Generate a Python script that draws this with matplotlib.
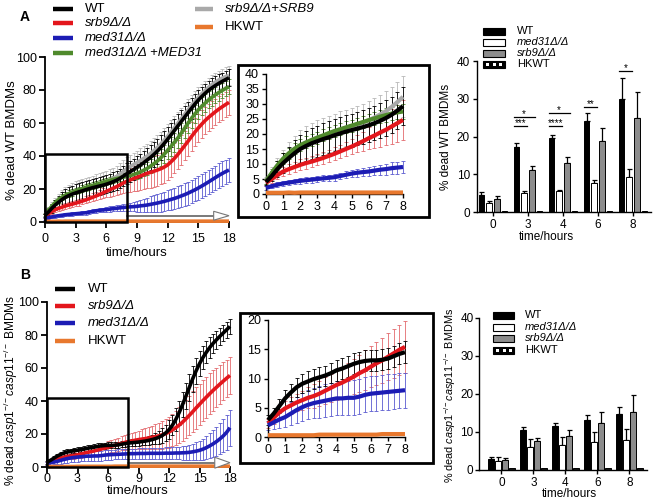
import numpy as np
import matplotlib
matplotlib.use('Agg')
import matplotlib.pyplot as plt
from matplotlib.patches import Rectangle, Polygon
from matplotlib.lines import Line2D

plt.rcParams['font.family'] = ['Liberation Sans', 'DejaVu Sans']
plt.rcParams['mathtext.fontset'] = 'custom'
plt.rcParams['mathtext.rm'] = 'Liberation Sans'
plt.rcParams['mathtext.it'] = 'Liberation Sans:italic'

# ---------------- data: time course (every 20 min, 0-18 h) ----------------
hours = np.arange(55) / 3.0

A_WT = [4.0, 6.0, 8.3, 10.3, 12.0, 13.6, 15.0, 16.0, 16.9, 17.6, 18.3, 18.9, 19.6, 20.2, 20.8, 21.3, 21.8, 22.3,
        22.9, 23.6, 24.4, 25.3, 26.4, 27.8, 29.3, 30.5, 31.8, 33.2, 34.5, 36.0, 37.6, 39.2, 41.0, 43.0, 45.2, 47.6,
        50.2, 52.8, 55.5, 58.2, 60.9, 63.6, 66.3, 68.9, 71.5, 73.9, 76.0, 78.0, 79.8, 81.3, 82.7, 84.0, 85.2, 86.3, 87.4]
A_WT_err = [1.0, 1.8, 2.6, 3.2, 3.8, 4.3, 4.7, 5.0, 5.1, 5.2, 5.3, 5.3, 5.4, 5.4, 5.5, 5.5, 5.5, 5.6, 5.6, 5.7,
            5.8, 5.9, 6.0, 6.1, 6.2, 6.4, 6.6, 6.8, 7.0, 7.2, 7.4, 7.5, 7.6, 7.6, 7.6, 7.5, 7.4, 7.3, 7.2, 7.0,
            6.9, 6.8, 6.6, 6.5, 6.3, 6.2, 6.0, 5.9, 5.8, 5.7, 5.6, 5.5, 5.4, 5.3, 5.2]
A_SRB9_COMP = [4.5, 6.8, 9.0, 11.0, 12.8, 14.4, 16.0, 17.1, 18.0, 18.8, 19.5, 20.1, 20.8, 21.4, 22.0, 22.6, 23.2,
               23.8, 24.6, 25.5, 26.5, 27.6, 29.0, 30.6, 32.4, 33.6, 34.8, 36.0, 37.3, 38.6, 40.0, 41.6, 43.3, 45.2,
               47.3, 49.6, 52.0, 54.6, 57.2, 59.9, 62.6, 65.3, 68.0, 70.6, 73.1, 75.5, 77.7, 79.7, 81.6, 83.3, 84.8,
               86.1, 87.2, 88.1, 88.9]
A_SRB9_COMP_err = [1.2, 2.2, 3.0, 3.8, 4.4, 4.9, 5.3, 5.5, 5.7, 5.8, 5.9, 6.0, 6.0, 6.1, 6.1, 6.2, 6.2, 6.3, 6.3,
                   6.4, 6.5, 6.6, 6.7, 6.8, 6.9, 7.0, 7.1, 7.2, 7.3, 7.4, 7.5, 7.5, 7.5, 7.4, 7.3, 7.2, 7.1, 7.0,
                   6.9, 6.8, 6.7, 6.6, 6.5, 6.4, 6.3, 6.2, 6.1, 6.0, 5.9, 5.8, 5.8, 5.7, 5.7, 5.6, 5.6]
A_MED31_COMP = [4.2, 7.0, 9.6, 11.8, 13.6, 15.1, 16.3, 17.2, 18.0, 18.8, 19.5, 20.3, 21.0, 21.6, 22.2, 22.8, 23.4,
                24.0, 24.6, 25.2, 25.8, 26.3, 26.8, 27.2, 27.5, 28.1, 28.8, 29.5, 30.4, 31.4, 32.5, 33.9, 35.4, 37.0,
                38.9, 41.1, 43.5, 45.9, 48.4, 51.0, 53.9, 56.9, 60.0, 62.8, 65.5, 68.0, 70.1, 72.1, 74.0, 75.6,
                77.1, 78.5, 79.7, 80.9, 82.0]
A_MED31_COMP_err = [0.8, 1.2, 1.5, 1.7, 1.8, 1.9, 2.0, 2.0, 2.0, 2.0, 2.0, 2.0, 2.0, 2.0, 2.0, 2.0, 2.0, 2.0, 2.1,
                    2.1, 2.1, 2.2, 2.2, 2.3, 2.4, 2.6, 2.9, 3.2, 3.5, 3.8, 4.1, 4.4, 4.7, 5.0, 5.2, 5.4, 5.6, 5.7,
                    5.8, 5.9, 5.9, 5.9, 5.8, 5.7, 5.6, 5.5, 5.4, 5.3, 5.2, 5.1, 5.0, 4.9, 4.8, 4.7, 4.6]
A_SRB9 = [3.7, 5.0, 6.3, 7.5, 8.3, 9.0, 9.7, 10.3, 10.8, 11.4, 12.0, 12.7, 13.4, 14.2, 15.0, 15.8, 16.7, 17.6,
          18.6, 19.5, 20.5, 21.4, 22.5, 23.6, 24.7, 25.5, 26.3, 27.1, 27.9, 28.7, 29.5, 30.1, 30.8, 31.5, 32.3,
          33.3, 34.6, 36.5, 38.6, 41.0, 43.6, 46.3, 49.0, 51.8, 54.5, 57.0, 59.3, 61.5, 63.4, 65.1, 66.8, 68.4,
          69.8, 71.2, 72.5]
A_SRB9_err = [1.0, 1.2, 1.4, 1.5, 1.6, 1.7, 1.8, 1.8, 1.9, 1.9, 2.0, 2.0, 2.1, 2.2, 2.3, 2.5, 2.8, 3.2, 3.7, 4.2,
              4.7, 5.2, 5.7, 6.2, 6.7, 7.2, 7.7, 8.1, 8.5, 8.8, 9.0, 9.2, 9.3, 9.4, 9.4, 9.4, 9.3, 9.2, 9.1, 9.0,
              8.9, 8.8, 8.7, 8.6, 8.5, 8.4, 8.3, 8.2, 8.1, 8.0, 7.9, 7.8, 7.7, 7.6, 7.5]
A_MED31 = [2.0, 2.6, 3.1, 3.5, 3.8, 4.1, 4.4, 4.6, 4.8, 5.0, 5.2, 5.4, 5.6, 6.0, 6.4, 6.8, 7.1, 7.3, 7.5, 7.8,
           8.1, 8.3, 8.6, 8.8, 9.0, 9.2, 9.3, 9.5, 9.8, 10.0, 10.3, 10.7, 11.1, 11.5, 12.0, 12.5, 13.1, 13.7, 14.3,
           15.0, 15.8, 16.6, 17.5, 18.5, 19.5, 20.6, 21.8, 23.0, 24.3, 25.6, 26.9, 28.2, 29.4, 30.5, 31.5]
A_MED31_err = [0.6, 0.7, 0.8, 0.8, 0.9, 0.9, 0.9, 1.0, 1.0, 1.0, 1.0, 1.1, 1.1, 1.1, 1.2, 1.2, 1.3, 1.4, 1.5, 1.6,
               1.7, 1.8, 1.9, 2.0, 2.1, 2.4, 2.8, 3.2, 3.6, 4.0, 4.4, 4.8, 5.1, 5.4, 5.7, 5.9, 6.1, 6.3, 6.5, 6.6,
               6.7, 6.8, 6.9, 7.0, 7.0, 7.1, 7.1, 7.2, 7.2, 7.2, 7.3, 7.3, 7.3, 7.3, 7.3]
A_HK = [0.4, 0.4, 0.4, 0.4, 0.5, 0.4, 0.5, 0.5, 0.5, 0.5, 0.5, 0.5, 0.5, 0.5, 0.5, 0.5, 0.5, 0.5, 0.5, 0.5,
        0.5, 0.5, 0.5, 0.5, 0.5, 0.5, 0.5, 0.5, 0.5, 0.5, 0.5, 0.5, 0.5, 0.5, 0.5, 0.5, 0.5, 0.5, 0.5, 0.5,
        0.5, 0.5, 0.5, 0.5, 0.5, 0.5, 0.5, 0.5, 0.5, 0.5, 0.5, 0.5, 0.5, 0.5, 0.5]

B_WT = [2.9, 4.0, 5.3, 6.6, 7.6, 8.5, 9.1, 9.5, 9.9, 10.2, 10.5, 10.9, 11.4, 11.7, 12.1, 12.5, 12.8, 13.0, 13.1,
        13.1, 13.2, 13.4, 13.8, 14.2, 14.5, 14.7, 14.9, 15.1, 15.4, 15.7, 16.1, 16.6, 17.2, 18.0, 19.1, 20.6,
        22.6, 25.3, 28.8, 33.0, 37.8, 43.0, 48.3, 53.5, 58.3, 62.6, 66.3, 69.5, 72.4, 74.9, 77.1, 79.2, 81.2,
        83.2, 85.2]
B_WT_err = [0.8, 1.0, 1.2, 1.4, 1.5, 1.6, 1.6, 1.7, 1.7, 1.7, 1.7, 1.7, 1.8, 1.8, 1.8, 1.8, 1.8, 1.8, 1.8, 1.8,
            1.8, 1.8, 1.8, 1.8, 1.9, 2.0, 2.1, 2.2, 2.3, 2.4, 2.6, 2.9, 3.3, 3.8, 4.4, 5.0, 5.6, 6.2, 6.8, 7.3,
            7.7, 8.0, 8.1, 8.0, 7.8, 7.5, 7.1, 6.7, 6.3, 5.9, 5.6, 5.3, 5.0, 4.8, 4.6]
B_SRB9 = [2.3, 3.3, 4.2, 4.9, 5.4, 5.9, 6.3, 6.7, 7.0, 7.4, 7.9, 8.4, 8.9, 9.3, 9.8, 10.3, 10.9, 11.4, 12.0,
          12.6, 13.1, 13.7, 14.3, 14.9, 15.4, 15.8, 16.2, 16.6, 16.9, 17.2, 17.6, 18.0, 18.4, 18.9, 19.5, 20.2,
          21.2, 22.4, 23.8, 25.4, 27.2, 29.2, 31.3, 33.5, 35.8, 38.0, 40.2, 42.3, 44.4, 46.4, 48.3, 50.2, 52.0,
          53.8, 55.5]
B_SRB9_err = [0.8, 1.0, 1.2, 1.3, 1.4, 1.5, 1.6, 1.8, 2.0, 2.1, 2.3, 2.4, 2.6, 2.7, 2.9, 3.0, 3.2, 3.4, 3.5, 3.7,
              3.9, 4.0, 4.2, 4.3, 4.5, 4.8, 5.1, 5.5, 5.9, 6.3, 6.7, 7.1, 7.5, 7.9, 8.4, 8.9, 9.4, 9.9, 10.4, 10.9,
              11.3, 11.7, 12.0, 12.3, 12.5, 12.6, 12.6, 12.5, 12.4, 12.2, 12.0, 11.8, 11.5, 11.2, 11.0]
B_MED31 = [2.0, 2.5, 3.0, 3.4, 4.0, 4.6, 5.1, 5.5, 5.8, 6.0, 6.2, 6.4, 6.6, 6.6, 6.7, 6.7, 6.9, 7.2, 7.4, 7.5,
           7.6, 7.7, 7.8, 7.9, 8.0, 8.1, 8.1, 8.2, 8.2, 8.2, 8.3, 8.3, 8.3, 8.3, 8.3, 8.4, 8.4, 8.4, 8.5, 8.5,
           8.6, 8.7, 8.9, 9.2, 9.6, 10.1, 10.8, 11.7, 12.8, 14.0, 15.4, 17.0, 18.8, 21.0, 23.8]
B_MED31_err = [0.8, 1.1, 1.4, 1.7, 2.0, 2.2, 2.4, 2.5, 2.6, 2.7, 2.8, 2.8, 2.9, 2.9, 2.9, 3.0, 3.0, 3.0, 3.0, 3.0,
               3.0, 3.0, 3.0, 3.0, 3.0, 3.1, 3.1, 3.2, 3.2, 3.3, 3.3, 3.4, 3.4, 3.5, 3.5, 3.6, 3.6, 3.7, 3.8, 3.9,
               4.1, 4.3, 4.6, 5.0, 5.4, 5.9, 6.4, 7.0, 7.6, 8.2, 8.8, 9.4, 10.0, 10.5, 11.0]
B_HK = [0.3, 0.3, 0.3, 0.3, 0.3, 0.3, 0.3, 0.3, 0.3, 0.4, 0.4, 0.4, 0.4, 0.4, 0.4, 0.4, 0.4, 0.4, 0.4, 0.4,
        0.5, 0.5, 0.5, 0.5, 0.5, 0.5, 0.5, 0.5, 0.5, 0.5, 0.5, 0.5, 0.5, 0.5, 0.5, 0.5, 0.5, 0.5, 0.5, 0.5,
        0.5, 0.5, 0.5, 0.5, 0.5, 0.5, 0.5, 0.5, 0.5, 0.5, 0.5, 0.5, 0.5, 0.5, 0.5]

# ---------------- data: bar charts ----------------
bar_times = ['0', '3', '4', '6', '8']
barA_WT = [4.5, 17.3, 19.6, 24.1, 30.0]
barA_WT_err = [0.7, 1.0, 0.9, 2.0, 5.5]
barA_MED31 = [2.3, 5.0, 5.5, 7.6, 9.4]
barA_MED31_err = [0.6, 0.6, 0.3, 0.8, 1.9]
barA_SRB9 = [3.4, 11.0, 13.1, 18.7, 24.8]
barA_SRB9_err = [0.9, 1.3, 1.6, 3.6, 7.0]
barA_HK = [0.3, 0.3, 0.3, 0.3, 0.3]

barB_WT = [2.8, 10.4, 11.6, 13.2, 14.7]
barB_WT_err = [0.6, 0.9, 0.9, 1.2, 1.8]
barB_MED31 = [2.3, 6.0, 6.5, 7.5, 8.0]
barB_MED31_err = [1.0, 2.2, 2.2, 2.6, 2.8]
barB_SRB9 = [2.6, 7.7, 9.0, 12.5, 15.3]
barB_SRB9_err = [0.6, 0.8, 1.5, 2.8, 4.4]
barB_HK = [0.4, 0.4, 0.4, 0.4, 0.4]

# significance: (group index, label, compared series index, height)
sigA = [(1, '*', 2, 25.2), (1, '***', 1, 22.8), (2, '****', 1, 22.8), (2, '*', 2, 26.2),
        (3, '**', 1, 27.8), (4, '*', 1, 37.4)]

# ---------------- colours ----------------
C_WT, C_SRB9, C_MED31 = 'black', '#e3161c', '#1c1cb4'
C_GREEN, C_GRAY, C_HK = '#4f8a2c', '#a9a9a9', '#e8782e'
E_WT, E_SRB9, E_MED31 = 'black', '#e36a6e', '#5b5bd0'
E_GREEN, E_GRAY = '#4f8a2c', '#b8b8b8'

W, H = 655, 504
fig = plt.figure(figsize=(6.55, 5.04), dpi=100)


def add_ax(x0, x1, ytop, ybot):
    return fig.add_axes([x0 / W, 1 - ybot / H, (x1 - x0) / W, (ybot - ytop) / H])


def style(ax, lw=1.2, fs=9, tl=4, pad=2):
    for s in ('top', 'right'):
        ax.spines[s].set_visible(False)
    for s in ('left', 'bottom'):
        ax.spines[s].set_linewidth(lw)
    ax.tick_params(direction='out', length=tl, width=lw, labelsize=fs, pad=pad)


def ftext(px, py, s, **kw):
    fig.text(px / W, 1 - py / H, s, **kw)


def draw_series(ax, series, n, lw, cap):
    for y, e, c, ec in series:
        yy = np.array(y)[:n]
        ee = np.array(e)[:n] if e is not None else None
        tt = hours[:n]
        if ee is not None:
            art = ax.errorbar(tt, yy, yerr=ee, fmt='none', ecolor=ec, elinewidth=0.6,
                              capsize=cap, capthick=0.6)
            for a in art.lines[1] + art.lines[2]:
                a.set_clip_on(False)
        ax.plot(tt, yy, color=c, lw=lw, solid_capstyle='butt', clip_on=False, zorder=3)


def main_panel(ax, series, ymax_box, arrow_y, arrow_h, xpad):
    style(ax, lw=1.3, fs=9)
    ax.tick_params(axis='x', pad=xpad)
    draw_series(ax, series, 55, 2.6, 1.3)
    ax.set_xlim(0, 18)
    ax.set_ylim(0, 100)
    ax.set_xticks([0, 3, 6, 9, 12, 15, 18])
    ax.set_yticks([0, 20, 40, 60, 80, 100])
    ax.add_patch(Rectangle((0, 0), 8, ymax_box, fill=False, lw=1.8, ec='black', zorder=5, clip_on=False))
    ax.plot([8, 16.5], [arrow_y, arrow_y], color='#555555', lw=1.1, zorder=4)
    ax.add_patch(Polygon([[16.5, arrow_y - arrow_h], [16.5, arrow_y + arrow_h], [18, arrow_y]],
                         closed=True, fc='white', ec='#777777', lw=0.8, zorder=4, clip_on=False))


def inset_panel(ax, series, ymax, ystep, box):
    style(ax, lw=1.0, fs=9, tl=3)
    draw_series(ax, series, 25, 3.0, 1.6)
    ax.set_xlim(0, 8)
    ax.set_ylim(0, ymax)
    ax.set_xticks(range(0, 9))
    ax.set_yticks(np.arange(0, ymax + 1, ystep))
    x0, y0, x1, y1 = box
    fig.add_artist(Rectangle((x0 / W, 1 - y1 / H), (x1 - x0) / W, (y1 - y0) / H, fill=False,
                             lw=2.0, ec='black', transform=fig.transFigure))


def bar_panel(ax, data, width, xlim, sig=None, ypad=2):
    style(ax, lw=1.0, fs=8.5, tl=3)
    ax.tick_params(axis='y', pad=ypad)
    x = np.arange(len(bar_times))
    offs = [-0.33, -0.11, 0.11, 0.33]
    fcs = ['black', 'white', '#8c8c8c', '#1a1a1a']
    for k, (vals, errs) in enumerate(data):
        ax.bar(x + offs[k], vals, width=width, color=fcs[k], edgecolor='black', lw=0.7, zorder=2)
        if errs is not None:
            ax.errorbar(x + offs[k], vals, yerr=[np.zeros(len(vals)), errs], fmt='none',
                        ecolor='black', elinewidth=0.9, capsize=1.8, capthick=0.9, zorder=1)
    ax.set_xlim(*xlim)
    ax.set_ylim(0, 40)
    ax.set_yticks([0, 10, 20, 30, 40])
    ax.set_xticks(x)
    ax.set_xticklabels(bar_times)
    if sig:
        for g, lab, k, h in sig:
            xa = g + offs[0] - 0.08
            xb = g + offs[k] + 0.08
            ax.plot([xa, xb], [h, h], color='black', lw=0.9)
            ax.text((xa + xb) / 2, h - 0.6, lab, ha='center', va='bottom', fontsize=7)


# ---------------- Panel A ----------------
axA = add_ax(45, 229, 57, 222)
seriesA = [(A_SRB9_COMP, A_SRB9_COMP_err, C_GRAY, E_GRAY),
           (A_SRB9, A_SRB9_err, C_SRB9, E_SRB9),
           (A_MED31, A_MED31_err, C_MED31, E_MED31),
           (A_MED31_COMP, A_MED31_COMP_err, C_GREEN, E_GREEN),
           (A_WT, A_WT_err, C_WT, E_WT),
           (A_HK, None, C_HK, C_HK)]
main_panel(axA, seriesA, 41.5, 3.8, 2.7, 4)

axAi = add_ax(266, 403, 74, 194)
inset_panel(axAi, seriesA, 40, 5, (238, 65, 429, 217))

axAb = add_ax(477, 651, 61, 212)
bar_panel(axAb, [(barA_WT, barA_WT_err), (barA_MED31, barA_MED31_err),
                 (barA_SRB9, barA_SRB9_err), (barA_HK, None)], 0.16, (-0.457, 4.51), sigA)

# ---------------- Panel B ----------------
axB = add_ax(47, 230, 302, 467)
seriesB = [(B_SRB9, B_SRB9_err, C_SRB9, E_SRB9),
           (B_MED31, B_MED31_err, C_MED31, E_MED31),
           (B_WT, B_WT_err, C_WT, E_WT),
           (B_HK, None, C_HK, C_HK)]
main_panel(axB, seriesB, 42, 2.6, 3.3, 0)

axBi = add_ax(268, 405, 320, 437)
inset_panel(axBi, seriesB, 20, 5, (240, 313, 433, 463))

axBb = add_ax(479, 647, 318, 470)
bar_panel(axBb, [(barB_WT, barB_WT_err), (barB_MED31, barB_MED31_err),
                 (barB_SRB9, barB_SRB9_err), (barB_HK, None)], 0.18, (-0.70, 4.55), ypad=1)

# ---------------- labels ----------------
ftext(25, 17, 'A', fontsize=10, fontweight='bold', ha='center', va='center')
ftext(25, 275, 'B', fontsize=10, fontweight='bold', ha='center', va='center')

ftext(12, 140, '% dead WT BMDMs', rotation=90, fontsize=9.5, ha='center', va='center')
ftext(11, 390, r'% dead $\mathit{casp1}^{-/-}\mathit{casp11}^{-/-}$ BMDMs', rotation=90, fontsize=8.6,
      ha='center', va='center')
ftext(137, 253, 'time/hours', fontsize=9.5, ha='center', va='center')
ftext(138, 491, 'time/hours', fontsize=9.5, ha='center', va='center')

ftext(446, 137, '% dead WT BMDMs', rotation=90, fontsize=8.5, ha='center', va='center')
ftext(450, 395, r'% dead $\mathit{casp1}^{-/-}\mathit{casp11}^{-/-}$ BMDMs', rotation=90, fontsize=7.8,
      ha='center', va='center')
ftext(546, 237, 'time/hours', fontsize=8.5, ha='center', va='center')
ftext(569, 494, 'time/hours', fontsize=8.5, ha='center', va='center')


# ---------------- legends ----------------
def leg_line(x0, x1, y, color, xt, label, italic):
    fig.add_artist(Line2D([x0 / W, x1 / W], [1 - y / H, 1 - y / H], color=color, lw=3.2,
                          transform=fig.transFigure, solid_capstyle='butt'))
    ftext(xt, y, label, fontsize=9.5, ha='left', va='center', style='italic' if italic else 'normal')


for y, c, lab, it in [(9, C_WT, 'WT', False), (23, C_SRB9, 'srb9Δ/Δ', True),
                      (38, C_MED31, 'med31Δ/Δ', True), (53, C_GREEN, 'med31Δ/Δ +MED31', True)]:
    leg_line(53, 73, y, c, 85, lab, it)
for y, c, lab, it in [(9, C_GRAY, 'srb9Δ/Δ+SRB9', True), (27, C_HK, 'HKWT', False)]:
    leg_line(195, 213, y, c, 225, lab, it)

for y, c, lab, it in [(289, C_WT, 'WT', False), (306, C_SRB9, 'srb9Δ/Δ', True),
                      (323, C_MED31, 'med31Δ/Δ', True), (341, C_HK, 'HKWT', False)]:
    leg_line(55, 75, y, c, 88, lab, it)


def leg_bar(x0, y, w, h, kind, xt, label, italic):
    fc = {'wt': 'black', 'med': 'white', 'srb': '#8c8c8c', 'hk': 'black'}[kind]
    fig.add_artist(Rectangle((x0 / W, 1 - (y + h / 2) / H), w / W, h / H, fc=fc, ec='black', lw=0.8,
                             transform=fig.transFigure))
    if kind == 'hk':
        for k in range(3):
            sx = x0 + 3 + k * 6.5
            fig.add_artist(Rectangle((sx / W, 1 - (y + 1.5) / H), 3 / W, 3 / H, fc='white', ec='none',
                                     transform=fig.transFigure))
    ftext(xt, y, label, fontsize=8, ha='left', va='center', style='italic' if italic else 'normal')


for y, kind, lab, it in [(31, 'wt', 'WT', False), (42, 'med', 'med31Δ/Δ', True),
                         (53, 'srb', 'srb9Δ/Δ', True), (64, 'hk', 'HKWT', False)]:
    leg_bar(483, y, 22, 7, kind, 517, lab, it)
for y, kind, lab, it in [(315, 'wt', 'WT', False), (327, 'med', 'med31Δ/Δ', True),
                         (338, 'srb', 'srb9Δ/Δ', True), (350, 'hk', 'HKWT', False)]:
    leg_bar(493, y, 21, 7, kind, 525, lab, it)

fig.savefig('out.png', dpi=100)
